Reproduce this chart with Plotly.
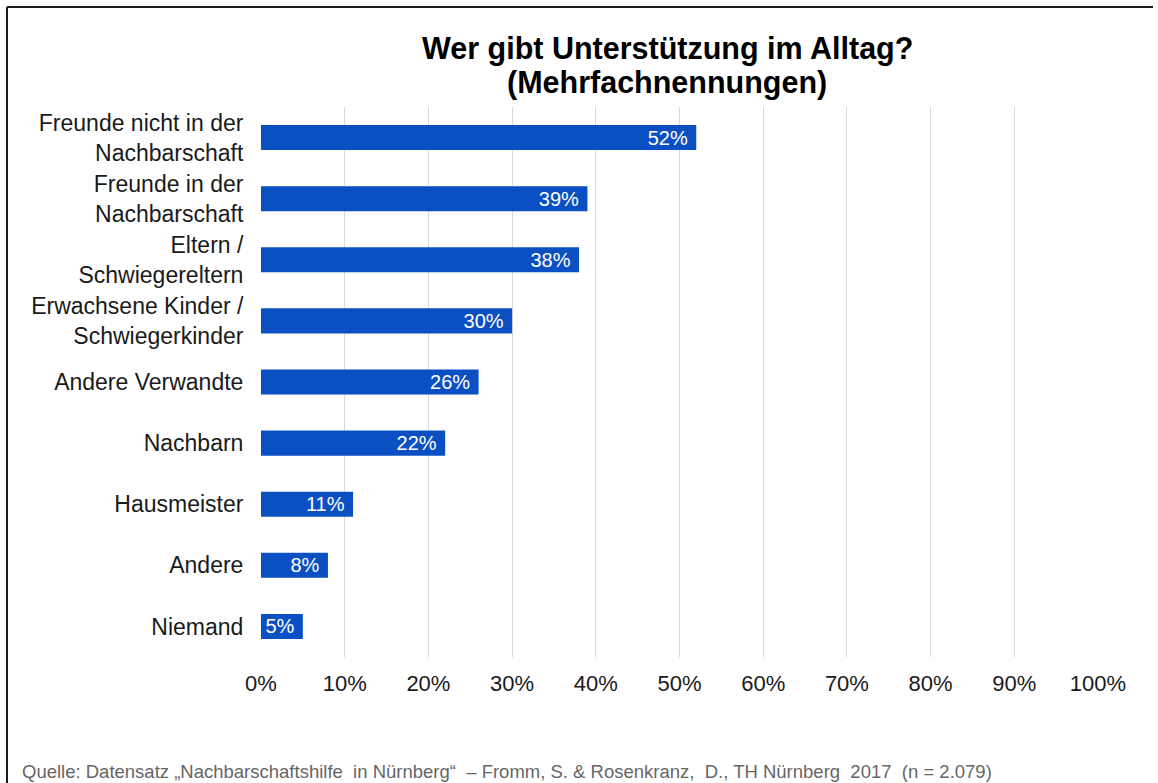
import plotly.graph_objects as go

categories = [
    "Freunde nicht in der<br>Nachbarschaft",
    "Freunde in der<br>Nachbarschaft",
    "Eltern /<br>Schwiegereltern",
    "Erwachsene Kinder /<br>Schwiegerkinder",
    "Andere Verwandte",
    "Nachbarn",
    "Hausmeister",
    "Andere",
    "Niemand",
]
values = [52, 39, 38, 30, 26, 22, 11, 8, 5]
tick_vals = [0, 10, 20, 30, 40, 50, 60, 70, 80, 90, 100]
tick_text = [f"{v}%" for v in tick_vals]

title_line1 = "<b>Wer gibt Unterstützung im Alltag?</b>"
title_line2 = "<b>(Mehrfachnennungen)</b>"
source_text = ("Quelle: Datensatz „Nachbarschaftshilfe\u00a0 in Nürnberg“\u00a0 – Fromm, S. & "
               "Rosenkranz,\u00a0 D., TH Nürnberg\u00a0 2017\u00a0 (n = 2.079)")

FONT = "Arial, 'Liberation Sans', sans-serif"
W, H = 1158, 783
L, R, T, B = 261, 60, 107, 126
pw, ph = W - L - R, H - T - B

def px(x):
    return (x - L) / pw

def py(y):
    return (H - B - y) / ph

fig = go.Figure(
    go.Bar(
        x=values,
        y=categories,
        orientation="h",
        marker=dict(color="#0b50c2", line=dict(width=0)),
        text=[f"{v}%\u00a0" for v in values],
        textposition="inside",
        insidetextanchor="end",
        constraintext="none",
        textfont=dict(color="white", size=20, family=FONT),
        hoverinfo="skip",
    )
)

fig.update_layout(
    width=W,
    height=H,
    margin=dict(l=L, r=R, t=T, b=B),
    paper_bgcolor="white",
    plot_bgcolor="white",
    bargap=0.59,
    showlegend=False,
    font=dict(family=FONT, color="#1a1a1a", size=22),
    xaxis=dict(
        range=[0, 100],
        tickvals=tick_vals,
        ticktext=tick_text,
        showgrid=True,
        gridcolor="#d9d9d9",
        gridwidth=1,
        zeroline=False,
        showline=False,
        ticks="outside",
        ticklen=7,
        tickcolor="white",
        tickfont=dict(size=22, color="#1a1a1a"),
        fixedrange=True,
    ),
    yaxis=dict(
        autorange="reversed",
        showgrid=False,
        zeroline=False,
        showline=False,
        ticks="outside",
        ticklen=12,
        tickcolor="white",
        tickfont=dict(size=23, color="#1a1a1a"),
        fixedrange=True,
    ),
    annotations=[
        dict(
            text=title_line1,
            xref="paper", yref="paper",
            x=px(667), y=py(48),
            xanchor="center", yanchor="middle",
            showarrow=False,
            font=dict(size=30.5, color="black", family=FONT),
        ),
        dict(
            text=title_line2,
            xref="paper", yref="paper",
            x=px(667), y=py(82),
            xanchor="center", yanchor="middle",
            showarrow=False,
            font=dict(size=30.5, color="black", family=FONT),
        ),
        dict(
            text=source_text,
            xref="paper", yref="paper",
            x=px(20), y=py(771),
            xanchor="left", yanchor="middle",
            showarrow=False,
            font=dict(size=18.5, color="#666666", family=FONT),
        ),
    ],
    shapes=[
        dict(type="line", xref="paper", yref="paper",
             x0=px(7), x1=px(1153), y0=py(7), y1=py(7),
             line=dict(color="#1a1a1a", width=2)),
        dict(type="line", xref="paper", yref="paper",
             x0=px(7), x1=px(7), y0=py(7), y1=py(783),
             line=dict(color="#1a1a1a", width=2)),
    ],
)

fig.write_html("out.html")
